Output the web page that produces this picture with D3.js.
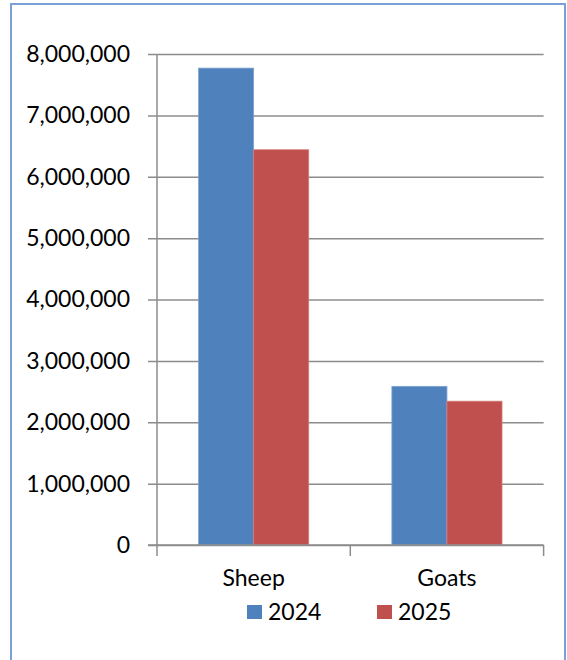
<!DOCTYPE html>
<html><head><meta charset="utf-8">
<script src="https://cdn.jsdelivr.net/npm/d3@7"></script>
<style>html,body{margin:0;padding:0;background:#fff;}svg{display:block;}</style>
</head><body>
<script>
const categories = ["Sheep", "Goats"];
const seriesNames = ["2024", "2025"];
const values2024 = [7770000, 2585000];
const values2025 = [6440000, 2343000];
const yTicks = [0, 1000000, 2000000, 3000000, 4000000, 5000000, 6000000, 7000000, 8000000];
const colors = ["#4f81bd", "#c0504d"];
const strokeColors = ["#7fa3d3", "#d37c79"];

(function () {
const W = 567, H = 660;
const font = "Lato, 'Open Sans', sans-serif";
const svg = d3.select("body").append("svg").attr("width", W).attr("height", H);

// outer frame
svg.append("rect").attr("x", 11).attr("y", 4).attr("width", 554).attr("height", 700)
  .attr("fill", "none").attr("stroke", "#7aa0d6").attr("stroke-width", 2);

const pLeft = 157, pRight = 543.6, pTop = 54, pBottom = 545;
const y = d3.scaleLinear().domain([0, 8000000]).range([pBottom, pTop]);
const x = d3.scaleBand().domain(categories).range([pLeft, pRight]).padding(0);
const x1 = d3.scaleBand().domain(seriesNames).range([0, x.bandwidth()]).paddingInner(0).paddingOuter(0.755);

// gridlines + tick labels
const yAxis = d3.axisLeft(y).tickValues(yTicks).tickSize(-(pRight - 148)).tickPadding(18)
  .tickFormat(d3.format(",")).tickSizeOuter(0);
const gy = svg.append("g").attr("transform", "translate(148,0)").call(yAxis);
gy.select(".domain").remove();
gy.selectAll(".tick line").attr("stroke", "#8c8c8c").attr("stroke-width", 1.5);
gy.selectAll(".tick text").attr("font-family", font).attr("font-size", 23).attr("fill", "#000");

// bars
const data = categories.map((c, i) => ({cat: c, vals: [values2024[i], values2025[i]]}));
const groups = svg.append("g").selectAll("g").data(data).join("g")
  .attr("transform", d => `translate(${x(d.cat)},0)`);
groups.selectAll("rect").data(d => d.vals.map((v, j) => ({s: seriesNames[j], v, j})))
  .join("rect")
  .attr("x", d => x1(d.s)).attr("width", x1.bandwidth())
  .attr("y", d => y(d.v)).attr("height", d => y(0) - y(d.v))
  .attr("fill", d => colors[d.j]).attr("stroke", d => strokeColors[d.j]).attr("stroke-width", 0.8);

// y axis line
svg.append("line").attr("x1", pLeft).attr("x2", pLeft).attr("y1", pTop).attr("y2", pBottom + 11)
  .attr("stroke", "#8c8c8c").attr("stroke-width", 1.5);
// x axis line
svg.append("line").attr("x1", 148).attr("x2", pRight).attr("y1", pBottom).attr("y2", pBottom)
  .attr("stroke", "#8c8c8c").attr("stroke-width", 1.5);
// category tick marks at band boundaries
const bounds = categories.map(c => x(c) + x.bandwidth());
svg.selectAll(".ctick").data(bounds).join("line")
  .attr("x1", d => d).attr("x2", d => d).attr("y1", pBottom).attr("y2", pBottom + 11)
  .attr("stroke", "#8c8c8c").attr("stroke-width", 1.5);
// category labels
svg.selectAll(".clabel").data(categories).join("text")
  .attr("x", d => x(d) + x.bandwidth() / 2).attr("y", 586)
  .attr("text-anchor", "middle").attr("font-family", font).attr("font-size", 23).attr("fill", "#000")
  .text(d => d);

// legend
const legendX = [247, 377];
const lg = svg.selectAll(".lg").data(seriesNames).join("g")
  .attr("transform", (d, i) => `translate(${legendX[i]},605)`);
lg.append("rect").attr("width", 15).attr("height", 14).attr("fill", (d, i) => colors[i]);
lg.append("text").attr("x", 21).attr("y", 14.5).attr("font-family", font).attr("font-size", 23)
  .attr("fill", "#000").text(d => d);
})();
</script>
</body></html>
